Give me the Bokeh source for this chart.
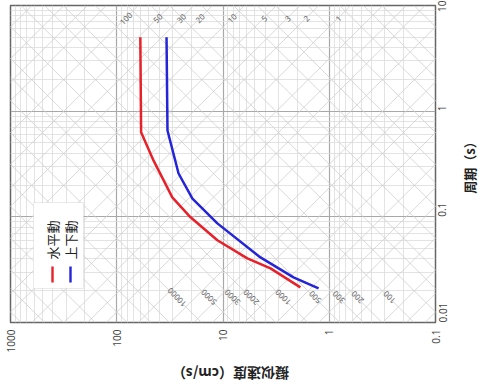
import math
from bokeh.plotting import figure
from bokeh.layouts import row, column
from bokeh.models import Range1d, FixedTicker, Label, BoxAnnotation, ColumnDataSource
from bokeh.core.properties import value
from bokeh.embed import file_html
from bokeh.resources import INLINE

# ---- data ----
h_period = [0.0215, 0.0325, 0.0404, 0.060, 0.099, 0.153, 0.34, 0.63, 5.0]
h_velocity = [1.87, 3.57, 5.9, 11.3, 20.2, 30.0, 45.0, 59.0, 60.0]
v_period = [0.021, 0.0267, 0.0413, 0.0867, 0.149, 0.257, 0.657, 5.0]
v_velocity = [1.26, 2.17, 4.44, 11.3, 19.4, 26.2, 33.3, 34.0]

velocity_ticks = [1000, 100, 10, 1, 0.1]
velocity_tick_labels = ["1000", "100", "10", "1", "0.1"]
period_ticks = [0.01, 0.1, 1, 10]
period_tick_labels = ["0.01", "0.1", "1", "10"]

accel_values = [m * 10.0 ** k for k in range(-1, 6) for m in (1, 2, 3, 5)]      # gal
disp_values = [m * 10.0 ** k for k in range(-4, 4) for m in (1, 2, 3, 5)]       # cm
accel_labels = [100, 200, 300, 500, 1000, 2000, 3000, 5000, 10000]
disp_labels = [1, 2, 3, 5, 10, 20, 30, 50, 100]

series_names = ["水平動", "上下動"]
series_colors = ["#e8202a", "#2424d8"]
x_title = "擬似速度（cm/s）"
y_title = "周期（s）"

FONT = "Noto Sans CJK JP"
TWO_PI = 2 * math.pi

p = figure(width=455, height=362, x_axis_type="log", y_axis_type="log",
           x_range=Range1d(1000, 0.1), y_range=Range1d(0.01, 10),
           y_axis_location="right", output_backend="svg", toolbar_location=None,
           min_border_left=10, min_border_top=5, min_border_right=20, min_border_bottom=40)
p.frame_align = False
p.background_fill_color = "white"
p.border_fill_color = "white"
p.outline_line_color = "#666666"
p.outline_line_width = 1.5

def minor_list(lo_exp, hi_exp):
    out = []
    for e in range(lo_exp, hi_exp):
        for m in range(2, 10):
            out.append(m * 10.0 ** e)
    return out

p.xaxis.ticker = FixedTicker(ticks=velocity_ticks, minor_ticks=minor_list(-1, 3))
p.yaxis.ticker = FixedTicker(ticks=period_ticks, minor_ticks=minor_list(-2, 1))
p.xaxis.major_label_overrides = {t: s for t, s in zip(velocity_ticks, velocity_tick_labels)}
p.yaxis.major_label_overrides = {t: s for t, s in zip(period_ticks, period_tick_labels)}

for ax in (p.xaxis, p.yaxis):
    ax.axis_line_color = None
    ax.major_tick_line_color = None
    ax.minor_tick_line_color = None
    ax.major_tick_out = 0
    ax.minor_tick_out = 0
    ax.major_label_orientation = math.pi / 2
    ax.major_label_text_font = "Noto Sans"
    ax.major_label_text_font_size = "10px"
    ax.major_label_text_color = "#444444"
    ax.major_label_standoff = 7

for g in (p.xgrid, p.ygrid):
    g.grid_line_color = "#a8a8a8"
    g.grid_line_width = 1.2
    g.minor_grid_line_color = "#dcdcdc"
    g.minor_grid_line_width = 0.8

# tripartite diagonal lines
t_ends = [0.01, 10.0]
acc_xs = [[a * t / TWO_PI for t in t_ends] for a in accel_values]
acc_ys = [t_ends for a in accel_values]
dis_xs = [[TWO_PI * d / t for t in t_ends] for d in disp_values]
dis_ys = [t_ends for d in disp_values]
p.multi_line(xs=acc_xs + dis_xs, ys=acc_ys + dis_ys, line_color="#cfcfcf", line_width=0.8)

# diagonal line labels
t_acc_lab = 0.0172
t_dis_lab = 7.6
acc_src = ColumnDataSource(dict(
    x=[a * t_acc_lab / TWO_PI for a in accel_labels],
    y=[t_acc_lab] * len(accel_labels),
    t=[str(a) for a in accel_labels]))
dis_src = ColumnDataSource(dict(
    x=[TWO_PI * d / t_dis_lab for d in disp_labels],
    y=[t_dis_lab] * len(disp_labels),
    t=[str(d) for d in disp_labels]))
p.text(x="x", y="y", text="t", source=acc_src, angle=3 * math.pi / 4,
       text_align="center", text_baseline="middle", text_font=value("Noto Sans"),
       text_font_size="8px", text_color="#666666")
p.text(x="x", y="y", text="t", source=dis_src, angle=math.pi / 4,
       text_align="center", text_baseline="middle", text_font=value("Noto Sans"),
       text_font_size="8px", text_color="#666666")

# spectra
p.line(h_velocity, h_period, line_color=series_colors[0], line_width=2.5)
p.line(v_velocity, v_period, line_color=series_colors[1], line_width=2.5)

# rotated legend
p.add_layout(BoxAnnotation(left=23, right=73, bottom=34, top=120,
                           left_units="screen", right_units="screen",
                           bottom_units="screen", top_units="screen",
                           fill_color="white", fill_alpha=1.0,
                           line_color="#bbbbbb", line_width=1))
for i, (name, col) in enumerate(zip(series_names, series_colors)):
    xs = 42 + 18 * i
    p.add_layout(BoxAnnotation(left=xs - 1.2, right=xs + 1.2, bottom=40, top=56,
                               left_units="screen", right_units="screen",
                               bottom_units="screen", top_units="screen",
                               fill_color=col, fill_alpha=1.0, line_color=None))
    p.add_layout(Label(x=xs, y=63, x_units="screen", y_units="screen", text=name,
                       angle=math.pi / 2, text_align="left", text_baseline="middle",
                       text_font=FONT, text_font_size="13px", text_color="#222222"))

def title_strip(w, h):
    f = figure(width=w, height=h, x_range=Range1d(0, 1), y_range=Range1d(0, 1),
               output_backend="svg", toolbar_location=None, min_border=0)
    f.frame_align = False
    f.outline_line_color = None
    f.axis.visible = False
    f.grid.visible = False
    return f

# right strip: period title, reading upward
p2 = title_strip(23, 362)
p2.add_layout(Label(x=14, y=198, x_units="screen", y_units="screen", text=y_title,
                    angle=math.pi / 2, text_align="center", text_baseline="middle",
                    text_font=FONT, text_font_size="13px", text_font_style="bold",
                    text_color="#222222"))

# bottom strip: velocity title, upside down
p3 = title_strip(478, 21)
p3.add_layout(Label(x=230, y=10, x_units="screen", y_units="screen", text=x_title,
                    angle=math.pi, text_align="center", text_baseline="middle",
                    text_font=FONT, text_font_size="14px", text_font_style="bold",
                    text_color="#222222"))

layout = column(row(p, p2, spacing=0), p3, spacing=0)
open("out.html", "w").write(file_html(layout, INLINE))
